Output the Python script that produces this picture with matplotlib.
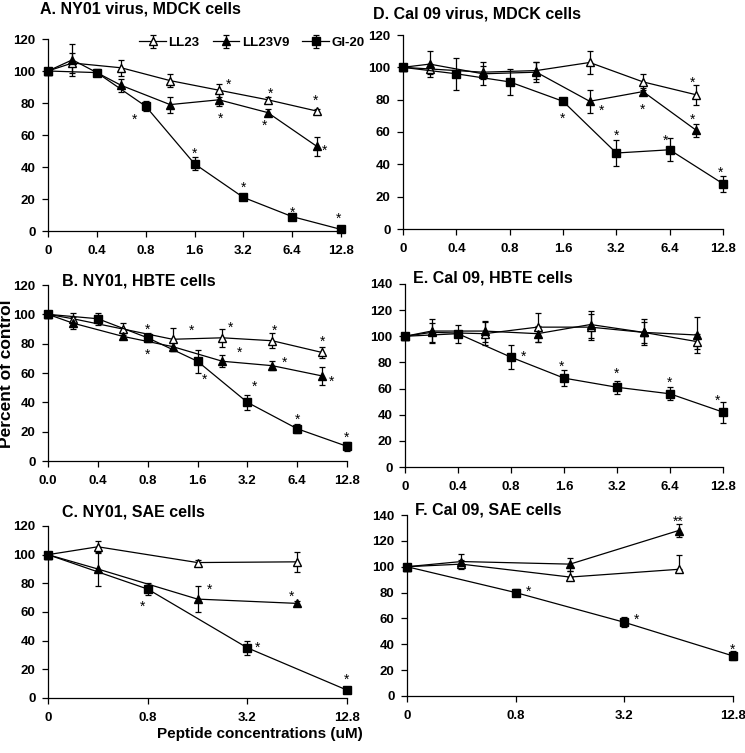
import matplotlib.pyplot as plt
import numpy as np

plt.rcParams['font.family'] = ['Liberation Sans', 'DejaVu Sans']

# x categories (evenly spaced, labels on every other one)
cats_fine = [0, 0.2, 0.4, 0.6, 0.8, 1.2, 1.6, 2.4, 3.2, 4.8, 6.4, 9.6, 12.8]
cats_coarse = [0, 0.4, 0.8, 1.6, 3.2, 6.4, 12.8]

x_half = [0, 0.2, 0.6, 1.2, 2.4, 4.8, 9.6]
x_full = [0, 0.4, 0.8, 1.6, 3.2, 6.4, 12.8]
x_c_half = [0, 0.4, 1.6, 6.4]
x_c_full = [0, 0.8, 3.2, 12.8]

labels_A = ['0', '0.4', '0.8', '1.6', '3.2', '6.4', '12.8']
labels_B = ['0.0', '0.4', '0.8', '1.6', '3.2', '6.4', '12.8']
labels_C = ['0', '0.8', '3.2', '12.8']

# A. NY01 virus, MDCK cells
A_ll23 = [100, 105, 102, 94, 88, 82, 75]
A_ll23_sd = [1, 6, 5, 4, 4, 2, 1]
A_v9 = [100, 107, 91, 79, 82, 74, 53]
A_v9_sd = [1, 10, 4, 5, 4, 2, 6]
A_gi = [100, 99, 78, 42, 21, 9, 1]
A_gi_sd = [1, 2, 3, 4, 1.5, 1, 0.5]

# B. NY01, HBTE cells
B_ll23 = [100, 97, 90, 83, 84, 82, 74]
B_ll23_sd = [1, 4, 4, 8, 6, 5, 4]
B_v9 = [100, 94, 85, 78, 68, 65, 58]
B_v9_sd = [1, 4, 2, 3, 4, 3, 6]
B_gi = [100, 97, 84, 68, 40, 22, 10]
B_gi_sd = [1, 4, 3, 8, 5, 3, 3]

# C. NY01, SAE cells
C_ll23 = [100, 105.5, 94.5, 95]
C_ll23_sd = [1, 4, 2, 7]
C_v9 = [100, 90, 69, 66]
C_v9_sd = [1, 12, 9, 2]
C_gi = [100, 76, 35, 5.5]
C_gi_sd = [1, 4, 5, 1.5]

# D. Cal 09 virus, MDCK cells
D_ll23 = [100, 99, 97, 98, 103, 91, 83]
D_ll23_sd = [1, 3, 4, 5, 7, 5, 6]
D_v9 = [100, 102, 96, 97, 79, 85, 61]
D_v9_sd = [1, 8, 7, 6, 7, 2, 4]
D_gi = [100, 96, 91, 79, 47, 49, 28]
D_gi_sd = [1, 10, 8, 1, 8, 7, 5]

# E. Cal 09, HBTE cells
E_ll23 = [100, 103, 102, 107, 107, 103, 96]
E_ll23_sd = [1, 7, 9, 11, 10, 8, 6]
E_v9 = [100, 104, 104, 102, 109, 103, 101]
E_v9_sd = [1, 9, 8, 6, 10, 10, 14]
E_gi = [100, 102, 84, 68, 61, 56, 42]
E_gi_sd = [1, 7, 9, 6, 5, 5, 8]

# F. Cal 09, SAE cells
F_ll23 = [100, 102, 92, 98]
F_ll23_sd = ([1, 2, 0, 0], [1, 3, 5, 11])
F_v9 = [100, 104, 102, 128]
F_v9_sd = [1, 6, 5, 5]
F_gi = [100, 80, 57, 31]
F_gi_sd = [1, 3, 4, 3.5]

# significance marks: (series, concentration, dx pt, dy pt, text)
stars_A = [('ll23', 2.4, 7, 7, '*'), ('ll23', 4.8, 2, 7, '*'), ('ll23', 9.6, -1, 10, '*'),
           ('v9', 2.4, 1, -11, '*'), ('v9', 4.8, -2, -6.5, '*'), ('v9', 9.6, 6, 0, '*'),
           ('gi', 0.8, -8, -6.5, '*'), ('gi', 1.6, 0, 10, '*'), ('gi', 3.2, 0, 10, '*'),
           ('gi', 6.4, 0, 6, '*'), ('gi', 12.8, -2, 11, '*')]
stars_B = [('gi', 0.8, 0, 8.5, '*'), ('gi', 0.8, 0, -9, '*'), ('ll23', 1.2, 13.5, 9, '*'),
           ('ll23', 2.4, 6, 10.5, '*'), ('v9', 2.4, 12.5, 9, '*'), ('ll23', 4.8, 1.5, 10, '*'),
           ('v9', 4.8, 8.5, 5, '*'), ('ll23', 9.6, 0, 10.5, '*'), ('v9', 9.6, 7, -1, '*'),
           ('gi', 1.6, 5, -10, '*'), ('gi', 3.2, 5, 14, '*'), ('gi', 6.4, 0, 9.5, '*'),
           ('gi', 12.8, 0, 9.5, '*')]
stars_C = [('v9', 1.6, 8.5, 10, '*'), ('v9', 6.4, -4, 8, '*'), ('gi', 0.8, -3.5, -10, '*'),
           ('gi', 3.2, 7, 3, '*'), ('gi', 12.8, 0, 10.5, '*')]
stars_D = [('ll23', 9.6, -3, 11.5, '*'), ('v9', 2.4, 8.5, -3.5, '*'), ('v9', 4.8, 0, -10, '*'),
           ('v9', 9.6, -3, 10.5, '*'), ('gi', 1.6, 0, -9.5, '*'), ('gi', 3.2, 0, 15.5, '*'),
           ('gi', 6.4, -3, 9.5, '*'), ('gi', 12.8, -2, 11, '*')]
stars_E = [('gi', 0.8, 9, 3.5, '*'), ('gi', 1.6, -2, 11, '*'), ('gi', 3.2, 0, 12.5, '*'),
           ('gi', 6.4, 0, 11, '*'), ('gi', 12.8, -4, 11, '*')]
stars_F = [('v9', 6.4, 0, 9, '**'), ('gi', 0.8, 9, 3.5, '*'), ('gi', 3.2, 8.5, 5, '*'),
           ('gi', 12.8, 0, 7.5, '*')]

styles = {
    'll23': dict(marker='^', mfc='white', label='LL23'),
    'v9': dict(marker='^', mfc='black', label='LL23V9'),
    'gi': dict(marker='s', mfc='black', label='GI-20'),
}


def draw_panel(ax, cats, series, tick_vals, tick_labels, ymax, stars):
    pos = {c: i * 0.5 for i, c in enumerate(cats)}
    pts = {}
    for key, xs, ys, sd in series:
        xp = [pos[c] for c in xs]
        st = styles[key]
        ax.errorbar(xp, ys, yerr=sd, color='black', lw=0.9, elinewidth=0.9,
                    capsize=2.5, capthick=0.9, marker=st['marker'], mfc=st['mfc'],
                    mec='black', ms=6 if st['marker'] == '^' else 5.5,
                    label=st['label'], clip_on=False, zorder=3)
        pts[key] = dict(zip(xs, ys))
    for key, c, dx, dy, txt in stars:
        ax.annotate(txt, (pos[c], pts[key][c]), xytext=(dx, dy - 3),
                    textcoords='offset points', ha='center', va='center',
                    fontsize=10, annotation_clip=False)
    ax.set_xlim(0, pos[cats[-1]])
    ax.set_ylim(0, ymax)
    ax.set_xticks([pos[c] for c in tick_vals])
    ax.set_xticklabels(tick_labels)
    ax.set_yticks(np.arange(0, ymax + 1, 20))
    for s in ['top', 'right']:
        ax.spines[s].set_visible(False)
    for s in ['left', 'bottom']:
        ax.spines[s].set_linewidth(0.9)
    ax.tick_params(direction='out', length=4, width=0.9, labelsize=9.5, pad=6)
    ax.tick_params(axis='y', pad=5)
    for t in ax.get_xticklabels() + ax.get_yticklabels():
        t.set_fontweight('bold')


fig = plt.figure(figsize=(7.45, 7.53), dpi=100)
W, H = 745.0, 753.0


def add_axes(left, right, top, bottom):
    return fig.add_axes([left / W, 1 - bottom / H, (right - left) / W, (bottom - top) / H])


axA = add_axes(48, 341, 39, 231)
axD = add_axes(403, 723, 35, 229)
axB = add_axes(48, 347, 285, 461)
axE = add_axes(405, 723, 284, 467)
axC = add_axes(48, 347, 526, 698)
axF = add_axes(407, 733, 515, 696)

draw_panel(axA, cats_fine, [('ll23', x_half, A_ll23, A_ll23_sd), ('v9', x_half, A_v9, A_v9_sd),
                            ('gi', x_full, A_gi, A_gi_sd)], x_full, labels_A, 120, stars_A)
draw_panel(axD, cats_fine, [('ll23', x_half, D_ll23, D_ll23_sd), ('v9', x_half, D_v9, D_v9_sd),
                            ('gi', x_full, D_gi, D_gi_sd)], x_full, labels_A, 120, stars_D)
draw_panel(axB, cats_fine, [('ll23', x_half, B_ll23, B_ll23_sd), ('v9', x_half, B_v9, B_v9_sd),
                            ('gi', x_full, B_gi, B_gi_sd)], x_full, labels_B, 120, stars_B)
draw_panel(axE, cats_fine, [('ll23', x_half, E_ll23, E_ll23_sd), ('v9', x_half, E_v9, E_v9_sd),
                            ('gi', x_full, E_gi, E_gi_sd)], x_full, labels_A, 140, stars_E)
draw_panel(axC, cats_coarse, [('ll23', x_c_half, C_ll23, C_ll23_sd), ('v9', x_c_half, C_v9, C_v9_sd),
                              ('gi', x_c_full, C_gi, C_gi_sd)], x_c_full, labels_C, 120, stars_C)
draw_panel(axF, cats_coarse, [('ll23', x_c_half, F_ll23, F_ll23_sd), ('v9', x_c_half, F_v9, F_v9_sd),
                              ('gi', x_c_full, F_gi, F_gi_sd)], x_c_full, labels_C, 140, stars_F)

axA.legend(loc='center', bbox_to_anchor=(252 / W, 1 - 43 / H), bbox_transform=fig.transFigure,
           ncol=3, frameon=False, handlelength=2.0, handletextpad=0.2, columnspacing=1.0,
           prop=dict(weight='bold', size=9.5))

title_kw = dict(fontsize=11.5, fontweight='bold', ha='left', va='center')
fig.text(40 / W, 1 - 9 / H, 'A. NY01 virus, MDCK cells', **title_kw)
fig.text(373 / W, 1 - 14 / H, 'D. Cal 09 virus, MDCK cells', **title_kw)
fig.text(62 / W, 1 - 281 / H, 'B. NY01, HBTE cells', **title_kw)
fig.text(413 / W, 1 - 278 / H, 'E. Cal 09, HBTE cells', **title_kw)
fig.text(62 / W, 1 - 512 / H, 'C. NY01, SAE cells', **title_kw)
fig.text(415 / W, 1 - 510 / H, 'F. Cal 09, SAE cells', **title_kw)

fig.text(7 / W, 1 - 374 / H, 'Percent of control', rotation=90, fontsize=12.5,
         fontweight='bold', ha='center', va='center')
fig.text(260 / W, 1 - 734 / H, 'Peptide concentrations (uM)', fontsize=11,
         fontweight='bold', ha='center', va='center')

fig.savefig('out.png', dpi=100)
